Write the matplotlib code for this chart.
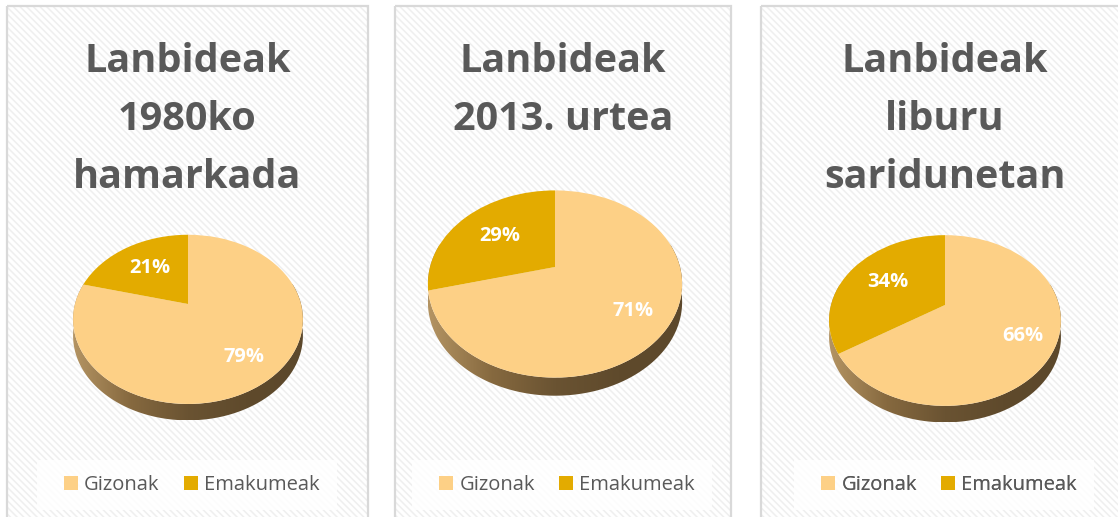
import numpy as np
import matplotlib
matplotlib.use('Agg')
from matplotlib import pyplot as plt
from matplotlib import transforms as mtransforms
from matplotlib.patches import Rectangle, Polygon, Patch
from matplotlib.colors import LinearSegmentedColormap

# datuak
titles = ['Lanbideak\n1980ko\nhamarkada', 'Lanbideak\n2013. urtea', 'Lanbideak\nliburu\nsaridunetan']
categories = ['Gizonak', 'Emakumeak']
gizonak = [79, 71, 66]
emakumeak = [21, 29, 34]

colors = ['#FDD086', '#E3AB00']
title_color = '#595959'

# panel layout in pixels (x0, x1) and pie placement (cx, cy, scale)
panels_x = [(7, 368), (395, 731), (761, 1130)]
pies = [(188, 304, 113), (555, 267, 125), (945, 305, 114)]
label_r = [0.73, 0.6]

plt.rcParams['font.family'] = ['Open Sans', 'DejaVu Sans']
plt.rcParams['hatch.linewidth'] = 1.1

# perspective of the tilted disc
SIN_T, COS_T = 0.724, 0.69
DIST = 3.8


class Tilt(mtransforms.Transform):
    input_dims = output_dims = 2
    is_separable = False
    has_inverse = False

    def transform_non_affine(self, values):
        v = np.asarray(values, float)
        x, y = v[:, 0], v[:, 1]
        z = DIST + y * COS_T
        return np.column_stack([x * DIST / z, y * SIN_T * DIST / z])


fig = plt.figure(figsize=(11.18, 5.17), dpi=100)
ax = fig.add_axes([0, 0, 1, 1])
ax.set_xlim(0, 1118)
ax.set_ylim(517, 0)
ax.axis('off')

side_cmap = LinearSegmentedColormap.from_list(
    'side', ['#B49463', '#86693F', '#6A5332', '#5F4A2C', '#5C482B'])

for i in range(3):
    x0, x1 = panels_x[i]
    cx_title = (x0 + x1) / 2 if i < 2 else 945
    # background with diagonal stripes
    ax.add_patch(Rectangle((x0, 6), x1 - x0, 530, facecolor='white',
                           edgecolor='#EFEFEF', hatch='\\\\\\\\\\', lw=0, zorder=0))
    ax.add_patch(Rectangle((x0, 6), x1 - x0, 530, fill=False,
                           edgecolor='#D9D9D9', lw=1.6, zorder=1))

    # title
    for j, line in enumerate(titles[i].split('\n')):
        ax.text(cx_title, 72 + 58 * j, line, ha='center', va='baseline',
                fontsize=28.5, fontweight='bold', color=title_color, zorder=5)

    # pie
    cx, cy, s = pies[i]
    to_px = mtransforms.Affine2D().scale(s, -s).translate(cx, cy)
    tilt = Tilt()
    depth = 0.145 * s

    th = np.deg2rad(np.linspace(165, 375, 200))
    top = (tilt + to_px).transform(np.column_stack([np.cos(th), np.sin(th)]))
    bottom = top + np.array([0, depth])
    side = Polygon(np.vstack([top, bottom[::-1]]), closed=True,
                   facecolor='none', edgecolor='none', zorder=2)
    ax.add_patch(side)
    xs0, xs1 = top[:, 0].min(), top[:, 0].max()
    ys0, ys1 = top[:, 1].min(), bottom[:, 1].max()
    grad = np.linspace(0, 1, 256)[None, :]
    im = ax.imshow(grad, cmap=side_cmap, aspect='auto',
                   extent=(xs0, xs1, ys1, ys0), zorder=2)
    im.set_clip_path(side)

    vals = [gizonak[i], emakumeak[i]]
    wedges, _ = ax.pie(vals, colors=colors, startangle=90, counterclock=False,
                       radius=1, center=(0, 0), frame=True,
                       wedgeprops=dict(linewidth=0))
    for w in wedges:
        w.set_transform(tilt + to_px + ax.transData)
        w.set_zorder(3)
    for w, v, r in zip(wedges, vals, label_r):
        mid = np.deg2rad((w.theta1 + w.theta2) / 2)
        px, py = (tilt + to_px).transform([[r * np.cos(mid), r * np.sin(mid)]])[0]
        ax.text(px, py, f'{v}%', ha='center', va='center', fontsize=14.5,
                fontweight='bold', color='white', zorder=4)

    # legend
    ax.add_patch(Rectangle((cx_title - 151, 460), 300, 50, facecolor='white',
                           edgecolor='none', alpha=0.85, zorder=4))
    handles = [Patch(facecolor=c, edgecolor='none') for c in colors]
    leg = ax.legend(handles, categories, loc='center', ncol=2,
                    bbox_to_anchor=(cx_title + 4, 485), bbox_transform=ax.transData,
                    frameon=False, fontsize=14.5, handlelength=0.7, handleheight=0.7,
                    handletextpad=0.3, columnspacing=1.2, labelcolor=title_color)
    leg.set_zorder(5)
    ax.add_artist(leg)

# pie() resets limits and aspect
ax.set_aspect('auto')
ax.set_xlim(0, 1118)
ax.set_ylim(517, 0)
ax.axis('off')

fig.savefig('out.png', dpi=100)
